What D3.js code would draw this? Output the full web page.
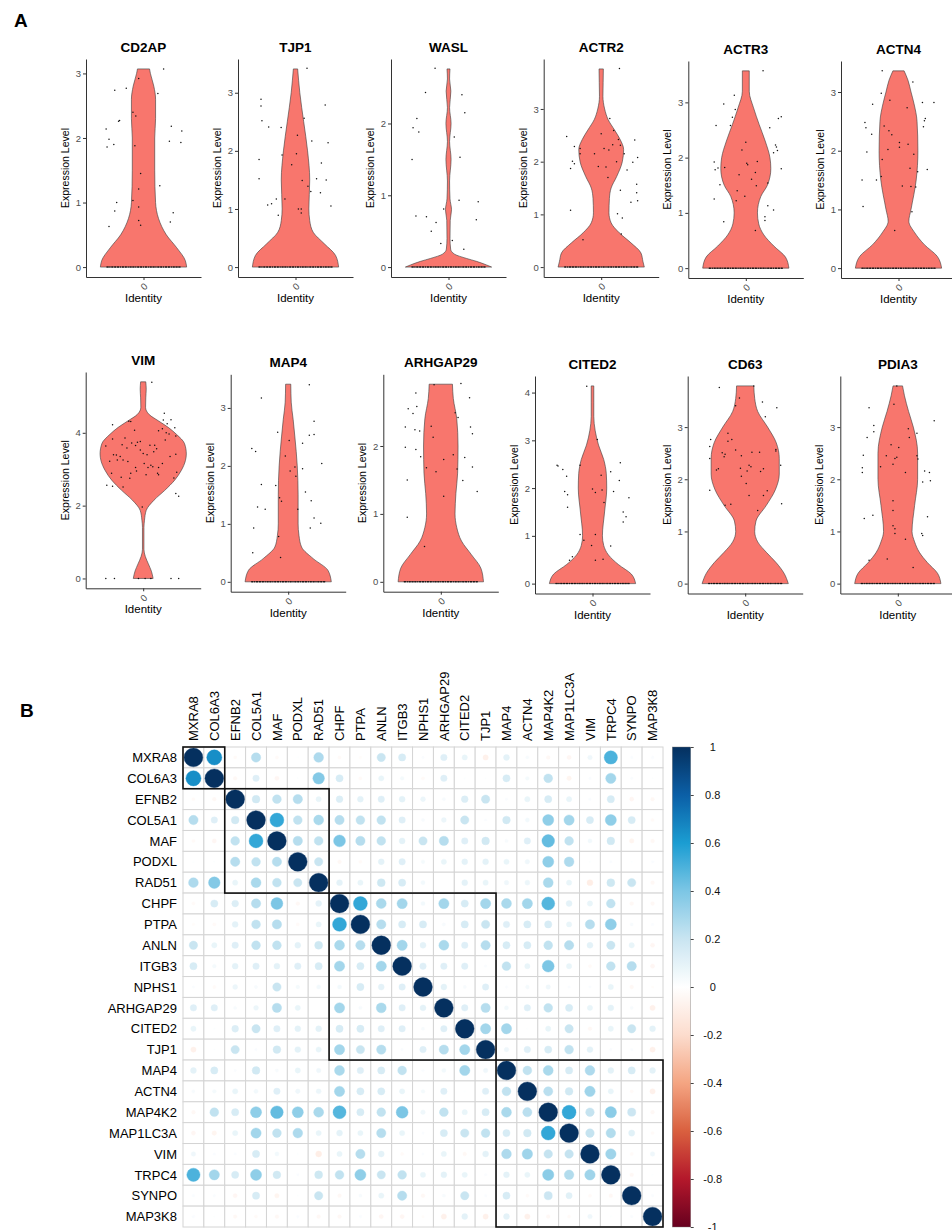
<!DOCTYPE html>
<html><head><meta charset="utf-8">
<script src="https://cdn.jsdelivr.net/npm/d3@7"></script>
<style>body{margin:0;background:#fff} svg{display:block} text{font-family:"Liberation Sans",Arial,sans-serif}</style>
</head><body><svg id="c" width="952" height="1230"></svg>
<script>
// ================= DATA: Panel A (violins) =================
const violinGenes = ["CD2AP","TJP1","WASL","ACTR2","ACTR3","ACTN4","VIM","MAP4","ARHGAP29","CITED2","CD63","PDIA3"];
const violinMax   = [3.07, 3.41, 2.76, 3.76, 3.57, 3.36, 5.4, 3.41, 2.91, 4.14, 3.79, 3.79];
const yTickStep   = [1,1,1,1,1,1,2,1,1,1,1,1];
const xTickLabel  = ["0"];

// violin outlines: [expression level, relative density]
const outlineCD2AP = [[0,1],[0.1,0.97],[0.3,0.77],[0.5,0.53],[0.75,0.35],[1,0.28],[1.5,0.26],[2,0.26],[2.3,0.28],[2.6,0.28],[2.8,0.24],[3.0,0.16],[3.07,0.14]];
const outlineTJP1 = [[0,1],[0.2,0.93],[0.4,0.67],[0.6,0.41],[0.8,0.33],[1,0.31],[1.5,0.33],[2,0.28],[2.5,0.19],[3,0.1],[3.41,0.05]];
const outlineWASL = [[0,1],[0.03,0.88],[0.08,0.65],[0.12,0.42],[0.18,0.14],[0.25,0.05],[0.4,0.035],[0.65,0.04],[0.8,0.07],[0.95,0.035],[1.2,0.025],[1.5,0.06],[1.75,0.025],[2.0,0.06],[2.22,0.025],[2.45,0.055],[2.62,0.025],[2.76,0.035]];
const outlineACTR2 = [[0,1],[0.1,0.97],[0.27,0.92],[0.46,0.69],[0.65,0.42],[0.84,0.23],[1.03,0.18],[1.3,0.19],[1.5,0.23],[1.72,0.36],[2,0.49],[2.23,0.52],[2.42,0.44],[2.6,0.31],[2.8,0.16],[3.0,0.08],[3.24,0.04],[3.5,0.045],[3.76,0.05]];
const outlineACTR3 = [[0,1],[0.2,0.92],[0.4,0.65],[0.6,0.42],[0.8,0.3],[1.0,0.27],[1.3,0.35],[1.5,0.5],[1.8,0.58],[2.0,0.56],[2.3,0.45],[2.6,0.31],[2.9,0.18],[3.2,0.08],[3.57,0.08]];
const outlineACTN4 = [[0,1],[0.2,0.9],[0.4,0.6],[0.6,0.38],[0.8,0.24],[1.0,0.29],[1.5,0.41],[2,0.45],[2.5,0.43],[2.8,0.36],[3.0,0.29],[3.2,0.22],[3.36,0.13]];
const outlineVIM = [[0,0.23],[0.2,0.19],[0.4,0.12],[0.6,0.05],[0.8,0.017],[1.4,0.017],[1.6,0.03],[1.87,0.07],[2.15,0.25],[2.42,0.5],[2.7,0.73],[2.96,0.88],[3.24,0.98],[3.42,1],[3.7,0.96],[3.96,0.77],[4.15,0.58],[4.33,0.35],[4.5,0.14],[4.7,0.055],[4.96,0.06],[5.2,0.07],[5.4,0.06]];
const outlineMAP4 = [[0,1],[0.2,0.92],[0.4,0.58],[0.6,0.31],[0.8,0.25],[1,0.23],[1.5,0.23],[2,0.21],[2.5,0.155],[2.8,0.115],[3.1,0.07],[3.41,0.06]];
const outlineARHGAP29 = [[0,0.99],[0.2,0.93],[0.4,0.71],[0.6,0.48],[0.8,0.37],[1.0,0.33],[1.3,0.35],[1.6,0.39],[2.0,0.4],[2.4,0.37],[2.7,0.29],[2.91,0.27]];
const outlineCITED2 = [[0,1],[0.2,0.9],[0.4,0.6],[0.6,0.37],[0.8,0.26],[1.0,0.23],[1.5,0.28],[2.0,0.33],[2.3,0.32],[2.6,0.26],[2.9,0.14],[3.2,0.063],[3.5,0.03],[3.8,0.03],[4.14,0.03]];
const outlineCD63 = [[0,1],[0.2,0.9],[0.4,0.72],[0.6,0.49],[0.8,0.29],[1.0,0.22],[1.2,0.25],[1.5,0.49],[1.8,0.7],[2.1,0.79],[2.4,0.79],[2.7,0.72],[3.0,0.52],[3.3,0.29],[3.55,0.22],[3.79,0.2]];
const outlinePDIA3 = [[0,1],[0.2,0.92],[0.4,0.69],[0.6,0.5],[0.8,0.39],[1.0,0.33],[1.5,0.39],[2.0,0.46],[2.5,0.46],[3.0,0.36],[3.3,0.25],[3.6,0.155],[3.79,0.11]];

// jittered cells: [jitter (hundredths of group width), expression level]
const cellsCD2AP = [[21,3.07],[-5,2.92],[-30,2.74],[-18,2.77],[15,2.69],[-11,2.4],[-8,2.34],[-25,2.27],[-26,2.26],[-39,2.14],[29,2.18],[40,2.11],[-36,1.98],[-31,1.9],[-38,1.86],[-9,1.88],[27,1.95],[39,1.93],[-3,1.45],[17,1.26],[-5,1.21],[-11,1.03],[-28,1.0],[-30,0.87],[-5,0.93],[31,0.84],[28,0.7],[-5,0.72],[-3,0.65],[-36,0.63]];
const cellsTJP1 = [[12,3.42],[-36,2.89],[-36,2.77],[-35,2.52],[-28,2.41],[-15,2.4],[31,2.79],[9,2.56],[2,2.27],[17,2.17],[34,2.14],[1,1.95],[-14,1.93],[-4,1.76],[27,1.79],[-38,1.85],[-38,1.52],[7,1.49],[22,1.52],[32,1.5],[13,1.39],[16,1.3],[26,1.28],[-20,1.17],[-11,1.17],[-29,1.07],[-25,1.09],[37,1.05],[3,1.0],[6,1.0],[6,0.93],[-18,0.89]];
const cellsWASL = [[-14,2.77],[-24,2.43],[14,2.4],[17,2.15],[-33,2.07],[-37,1.94],[-31,1.88],[6,1.81],[-38,1.5],[12,1.53],[11,0.93],[-5,0.81],[-34,0.71],[-23,0.7],[-13,0.62],[-18,0.5],[-8,0.33],[4,0.37],[16,0.25],[31,0.91],[29,0.66]];
const cellsACTR2 = [[19,3.77],[9,2.82],[-36,2.48],[0,2.53],[13,2.59],[18,2.42],[35,2.41],[-28,2.29],[20,2.31],[12,2.32],[3,2.25],[8,2.22],[-22,2.25],[-22,2.15],[-7,2.15],[24,2.15],[-30,2.01],[-28,1.96],[-32,1.87],[16,2.0],[38,2.08],[33,1.99],[-3,1.91],[5,1.9],[7,1.7],[27,1.84],[20,1.46],[37,1.57],[37,1.41],[31,1.23],[38,1.26],[-32,1.08],[17,1.01],[22,0.93],[21,0.63],[-19,0.52]];
const cellsACTR3 = [[18,3.57],[-12,3.13],[-23,2.97],[-11,2.87],[-14,2.73],[-16,2.58],[-31,2.58],[34,2.71],[37,2.74],[25,2.54],[31,2.23],[32,2.19],[29,2.09],[33,2.13],[0,2.28],[-4,2.14],[1,1.9],[2,1.87],[12,1.93],[-33,1.92],[-32,1.78],[-29,1.81],[-22,1.82],[10,1.73],[-7,1.69],[6,1.61],[11,1.49],[-27,1.51],[37,1.8],[23,1.54],[-9,1.4],[-10,1.22],[-1,1.3],[-33,1.25],[23,1.13],[29,1.05],[20,0.93],[20,0.86],[-23,0.84],[10,0.68]];
const cellsACTN4 = [[-17,3.36],[15,3.17],[-18,2.98],[-9,2.86],[-27,2.79],[25,2.82],[37,2.82],[9,2.73],[-35,2.48],[-34,2.39],[28,2.55],[27,2.51],[26,2.41],[-15,2.42],[-10,2.34],[-7,2.27],[-28,2.28],[-33,1.98],[1,2.14],[1,2.06],[10,2.11],[-11,2.02],[16,1.94],[-17,1.85],[12,1.7],[30,1.68],[20,1.64],[-38,1.5],[-23,1.5],[-18,1.56],[4,1.4],[13,1.39],[18,1.38],[-37,1.05],[14,0.96],[-4,0.64]];
const cellsVIM = [[9,5.39],[22,4.54],[-15,4.32],[-13,4.31],[-32,4.22],[29,4.36],[21,4.35],[25,4.25],[33,4.14],[-9,4.07],[16,4.06],[20,4.11],[24,4.0],[27,3.97],[-32,3.83],[-19,3.86],[-3,3.76],[-6,3.74],[-12,3.72],[-8,3.65],[34,3.91],[23,3.8],[-22,3.67],[7,3.66],[12,3.66],[-17,3.58],[14,3.56],[-3,3.53],[-39,3.64],[-31,3.4],[-28,3.39],[0,3.43],[4,3.4],[11,3.48],[28,3.35],[34,3.41],[-24,3.35],[-21,3.25],[-27,3.25],[-35,3.22],[-16,3.21],[1,3.16],[10,3.07],[8,3.11],[-8,3.05],[5,3.05],[16,3.05],[20,3.16],[-7,2.95],[-33,2.89],[15,2.89],[3,2.85],[16,2.85],[-13,2.89],[-23,2.78],[-14,2.75],[35,2.92],[32,2.76],[-38,2.56],[-32,2.53],[-21,2.51],[34,2.33],[37,2.26],[-1,1.96]];
const cellsMAP4 = [[22,3.4],[-28,3.17],[27,2.77],[-11,2.58],[22,2.53],[27,2.54],[-38,2.3],[-34,2.25],[1,2.44],[15,2.39],[-3,2.17],[35,2.04],[7,1.98],[2,1.91],[8,1.82],[15,1.95],[-28,1.68],[-13,1.66],[18,1.55],[-9,1.45],[-7,1.39],[24,1.4],[-32,1.29],[-24,1.25],[10,1.25],[27,1.1],[34,1.01],[-36,0.93],[23,0.93],[-10,0.78],[-37,0.5],[-8,0.42]];
const cellsARHGAP29 = [[-7,2.9],[21,2.92],[-26,2.78],[30,2.71],[-34,2.55],[-25,2.58],[-29,2.48],[15,2.49],[18,2.42],[-37,2.28],[-10,2.29],[-27,2.24],[-22,2.22],[31,2.28],[33,2.18],[-8,2.13],[-37,1.98],[-26,1.95],[-21,1.84],[13,1.87],[25,1.83],[3,1.8],[33,1.69],[-15,1.68],[-5,1.62],[17,1.66],[-35,1.5],[23,1.49],[3,1.26],[38,1.33],[-35,0.95],[-17,0.52]];
const cellsCITED2 = [[-6,4.13],[5,3.02],[-37,2.48],[-36,2.46],[-31,2.39],[-13,2.48],[29,2.53],[19,2.34],[-27,2.25],[9,2.27],[28,2.16],[-29,1.93],[-26,1.86],[0,1.98],[3,1.91],[10,1.96],[22,1.93],[38,1.8],[12,1.7],[-26,1.6],[32,1.5],[35,1.4],[32,1.29],[3,1.03],[-13,1.03],[-9,0.91],[-1,0.8],[19,0.79],[-21,0.56],[-24,0.49],[3,0.49],[11,0.51]];
const cellsCD63 = [[9,3.79],[-27,3.76],[-6,3.56],[18,3.48],[-10,3.41],[33,3.37],[21,3.2],[-36,2.76],[-18,2.88],[-14,2.76],[-18,2.73],[-37,2.63],[-10,2.56],[32,2.57],[32,2.54],[-24,2.51],[-21,2.48],[-22,2.43],[-4,2.45],[7,2.52],[15,2.52],[-37,2.4],[4,2.27],[6,2.24],[37,2.27],[-28,2.2],[-30,2.18],[-5,2.21],[2,2.16],[19,2.2],[16,2.15],[-4,2.06],[1,1.92],[-37,1.79],[23,1.78],[4,1.69],[19,1.69],[38,1.53],[-15,1.52],[-21,1.5],[13,1.4]];
const cellsPDIA3 = [[-1,3.79],[-4,3.44],[-30,3.37],[-25,3.03],[-25,2.91],[-32,2.8],[38,3.12],[11,2.97],[20,2.88],[12,2.8],[-7,2.66],[1,2.61],[-36,2.46],[-12,2.45],[-1,2.42],[-3,2.4],[20,2.45],[21,2.39],[-5,2.29],[-18,2.24],[-37,2.22],[-37,2.13],[8,2.13],[28,2.16],[33,2.13],[26,1.95],[34,1.97],[-5,1.59],[-5,1.4],[-26,1.31],[-35,1.25],[31,1.28],[-5,1.11],[-3,1.05],[-3,0.96],[25,0.96],[26,0.92],[8,0.85],[-30,0.45],[-11,0.47],[16,0.31]];

// jitter of the many zero-expression cells
const zeroJitter = [-38,-37,-35,-33,-32,-30,-29,-27,-26,-24,-22,-21,-19,-18,-16,-14,-13,-11,-10,-8,-6,-5,-3,-2,0,2,3,5,7,8,10,11,13,15,16,18,19,21,23,24,26,27,29,31,32,34,35,37,38];
const zeroJitterVIM = [-39,-30,-5,2,8,29,37];

// ================= DATA: Panel B (correlation matrix) =================
const corrGenes = ["MXRA8","COL6A3","EFNB2","COL5A1","MAF","PODXL","RAD51","CHPF","PTPA","ANLN","ITGB3","NPHS1","ARHGAP29","CITED2","TJP1","MAP4","ACTN4","MAP4K2","MAP1LC3A","VIM","TRPC4","SYNPO","MAP3K8"];
// upper triangle, row i holds r(i, j) for j > i
const corrUpper = [
 [0.65,-0.03,0.25,-0.03,0.01,0.27,-0.03,-0.02,0.2,0.15,0.02,0.12,0.08,-0.08,0.1,0.03,-0.04,-0.05,0.06,0.5,0.02,0.02],
 [-0.04,0.12,-0.05,0.01,0.38,0.15,-0.03,0.08,0.04,-0.03,0.12,0.01,0.01,0.15,0.04,0.22,-0.06,0.02,0.3,0.02,0.01],
 [0.17,0.22,0.25,0.08,0.13,0.1,0.12,0.1,0.07,0.03,0.13,0.2,0.02,0.08,0.15,0.08,0.02,0.15,-0.05,-0.04],
 [0.55,0.22,0.28,0.25,0.22,0.22,0.12,0.03,0.07,0.2,0.02,0.17,0.05,0.35,0.3,0.15,0.35,0.15,-0.03],
 [0.25,0.22,0.4,0.25,0.22,0.1,0.2,0.25,0.12,0.17,0.03,0.12,0.45,0.22,0.05,0.17,-0.06,-0.04],
 [0.2,-0.04,-0.03,0.1,0.12,0.04,0.08,0.1,0.1,0.08,0.06,0.35,0.27,0.01,0.02,0.01,0.02],
 [0.1,0.08,0.18,0.15,0.05,0.0,0.1,0.08,0.06,0.07,0.28,0.08,-0.1,0.18,0.2,-0.04],
 [0.55,0.28,0.3,0.05,0.3,0.15,0.3,0.28,0.3,0.48,0.1,0.08,0.22,-0.04,-0.04],
 [0.25,0.15,0.15,0.03,0.15,0.2,0.12,0.15,0.15,0.08,0.25,0.35,0.03,0.02],
 [0.3,0.1,0.28,0.12,0.25,0.15,0.15,0.22,0.25,0.1,0.2,0.08,-0.05],
 [0.12,0.12,0.12,0.02,0.22,0.08,0.4,0.08,-0.03,0.22,0.25,-0.05],
 [0.1,0.03,0.12,0.02,0.04,0.06,0.02,0.02,0.08,-0.04,-0.02],
 [0.12,0.25,0.05,0.12,0.22,0.15,0.08,0.1,0.03,-0.08],
 [0.3,0.3,0.01,0.08,0.2,-0.04,0.08,0.2,0.1],
 [0.06,0.12,0.15,0.22,0.1,0.02,0.02,-0.08],
 [0.22,0.28,0.15,0.27,0.1,0.15,0.1],
 [0.24,0.17,0.31,0.08,-0.03,-0.08],
 [0.55,0.21,0.36,0.19,-0.04],
 [0.21,0.26,0.11,-0.03],
 [0.31,-0.03,0.06],
 [-0.04,0.01],
 [0.02]
];
const clusterStart = [0,2,7,15];
const clusterEnd   = [1,6,14,22];
const legendTicks = [1,0.8,0.6,0.4,0.2,0,-0.2,-0.4,-0.6,-0.8,-1];
const legendTickLabels = ["1","0.8","0.6","0.4","0.2","0","-0.2","-0.4","-0.6","-0.8","-1"];
const legendColors = ["#05305f","#0b5fa6","#1b9dd2","#7cc6e5","#c9e5f1","#ffffff","#fcdccd","#f4a582","#d9603f","#b4182b","#67001f"];

// ================= LAYOUT =================
const svg = d3.select("#c");
svg.append("rect").attr("width",952).attr("height",1230).attr("fill","#fff");
const FONT = '"Liberation Sans", Arial, sans-serif';

const panelAxisX  = [86,238,391,543.7,688.3,841, 85.7,230.7,383.3,535,687.7,840.3];
const panelTop    = [59,59,59,59,61,61, 372,374.3,374.3,376,376,376];
const panelBottom = [277,277,277,277,278,278, 588.3,591.7,591.7,593.5,593.5,593.5];
const panelWidth = 115;

const outlines = [outlineCD2AP,outlineTJP1,outlineWASL,outlineACTR2,outlineACTR3,outlineACTN4,outlineVIM,outlineMAP4,outlineARHGAP29,outlineCITED2,outlineCD63,outlinePDIA3];
const cells = [cellsCD2AP,cellsTJP1,cellsWASL,cellsACTR2,cellsACTR3,cellsACTN4,cellsVIM,cellsMAP4,cellsARHGAP29,cellsCITED2,cellsCD63,cellsPDIA3];

svg.append("text").attr("x",14).attr("y",27).attr("font-size",19).attr("font-weight","bold").attr("font-family",FONT).text("A");
svg.append("text").attr("x",20).attr("y",717).attr("font-size",19).attr("font-weight","bold").attr("font-family",FONT).text("B");

violinGenes.forEach((g,i)=>{
  const ax = panelAxisX[i], top = panelTop[i], bot = panelBottom[i], M = violinMax[i];
  const gp = svg.append("g");
  const ys = d3.scaleLinear().domain([-0.05*M, 1.05*M]).range([bot, top]);
  const xs = d3.scaleLinear().domain([0.4,1.6]).range([ax, ax+panelWidth]);
  const xp = d3.scalePoint().domain(xTickLabel).range([ax, ax+panelWidth]).padding(0.5);
  const cx = xs(1);
  // violin
  const area = d3.area().curve(d3.curveMonotoneY)
    .y(d=>ys(d[0])).x0(d=>xs(1-0.45*d[1])).x1(d=>xs(1+0.45*d[1]));
  gp.append("path").attr("d", area(outlines[i])).attr("fill","#F8766D").attr("stroke","#3a3a3a").attr("stroke-width",0.6);
  // zero cells
  const zj = (g==="VIM") ? zeroJitterVIM : zeroJitter;
  gp.selectAll("circle.z").data(zj).join("circle").attr("class","z")
    .attr("cx",d=>xs(1+d/100)).attr("cy",ys(0)).attr("r",0.75).attr("fill","#111");
  gp.selectAll("circle.p").data(cells[i]).join("circle").attr("class","p")
    .attr("cx",d=>xs(1+d[0]/100)).attr("cy",d=>ys(d[1])).attr("r",0.75).attr("fill","#111");
  // y axis
  const yAxis = d3.axisLeft(ys).tickValues(d3.range(0, M+1e-9, yTickStep[i])).tickSize(3).tickSizeOuter(0).tickPadding(2).tickFormat(d3.format("d"));
  const ya = gp.append("g").attr("transform",`translate(${ax},0)`).call(yAxis);
  ya.select(".domain").attr("stroke","#333").attr("stroke-width",1);
  ya.selectAll(".tick line").attr("stroke","#333");
  ya.selectAll(".tick text").attr("font-size",9.5).attr("fill","#4d4d4d").attr("font-family",FONT);
  // x axis
  const xAxis = d3.axisBottom(xp).tickSize(3).tickSizeOuter(0);
  const xa = gp.append("g").attr("transform",`translate(0,${bot})`).call(xAxis);
  xa.select(".domain").attr("stroke","#333").attr("stroke-width",1);
  xa.selectAll(".tick line").attr("stroke","#333");
  xa.selectAll(".tick text").attr("font-size",9.5).attr("fill","#4d4d4d").attr("font-family",FONT)
    .attr("y",0).attr("dy",0).attr("text-anchor","middle").attr("dominant-baseline","central")
    .attr("transform","translate(0,9.5) rotate(-45)");
  // labels
  gp.append("text").attr("x",cx).attr("y",top-7.5).attr("text-anchor","middle").attr("font-size",13.5).attr("font-weight","bold").attr("font-family",FONT).text(g);
  gp.append("text").attr("transform",`translate(${ax-17},${(top+bot)/2}) rotate(-90)`).attr("text-anchor","middle").attr("font-size",10.5).attr("font-family",FONT).text("Expression Level");
  gp.append("text").attr("x",cx).attr("y",bot+25).attr("text-anchor","middle").attr("font-size",11.5).attr("font-family",FONT).text("Identity");
});

// ================= Correlation matrix =================
const n = corrGenes.length;
const M = corrGenes.map((g,i)=>corrGenes.map((h,j)=> i===j ? 1 : (j>i ? corrUpper[i][j-i-1] : corrUpper[j][i-j-1])));
const cellData = [];
M.forEach((row,i)=>row.forEach((v,j)=>cellData.push({i,j,v})));
const gx = d3.scaleBand().domain(corrGenes).range([183, 663]);
const gy = d3.scaleBand().domain(corrGenes).range([747, 1227]);
const bw = gx.bandwidth();
const col = d3.scaleLinear().domain(legendTicks).range(legendColors).interpolate(d3.interpolateRgb);
const rad = d3.scaleSqrt().domain([0,1]).range([0, 0.45*bw]);

const gm = svg.append("g");
gm.selectAll("rect.cell").data(cellData).join("rect").attr("class","cell")
  .attr("x",d=>gx(corrGenes[d.j])).attr("y",d=>gy(corrGenes[d.i]))
  .attr("width",bw).attr("height",bw).attr("fill","#fff").attr("stroke","#d4d4d4").attr("stroke-width",1);
gm.selectAll("circle.cc").data(cellData).join("circle").attr("class","cc")
  .attr("cx",d=>gx(corrGenes[d.j])+bw/2).attr("cy",d=>gy(corrGenes[d.i])+bw/2)
  .attr("r",d=>rad(Math.abs(d.v))).attr("fill",d=>col(d.v)).attr("stroke",d=>col(d.v)).attr("stroke-width",0.4);
// cluster rectangles
clusterStart.forEach((s,k)=>{
  const e = clusterEnd[k];
  gm.append("rect").attr("x",gx(corrGenes[s])).attr("y",gy(corrGenes[s]))
    .attr("width",gx(corrGenes[e])+bw-gx(corrGenes[s])).attr("height",gy(corrGenes[e])+bw-gy(corrGenes[s]))
    .attr("fill","none").attr("stroke","#111").attr("stroke-width",1.6);
});
// labels
gm.selectAll("text.rl").data(corrGenes).join("text").attr("class","rl")
  .attr("x",177).attr("y",d=>gy(d)+bw/2).attr("dy","0.36em").attr("text-anchor","end")
  .attr("font-size",13).attr("font-family",FONT).text(d=>d);
gm.selectAll("text.cl").data(corrGenes).join("text").attr("class","cl")
  .attr("transform",d=>`translate(${gx(d)+bw/2},741) rotate(-90)`).attr("dy","0.36em").attr("text-anchor","start")
  .attr("font-size",13).attr("font-family",FONT).text(d=>d);

// colour legend
const ly = d3.scaleLinear().domain([-1,1]).range([1227,747]);
const defs = svg.append("defs");
const grad = defs.append("linearGradient").attr("id","cg").attr("x1",0).attr("y1",1).attr("x2",0).attr("y2",0);
d3.range(0,1.0001,0.02).forEach(t=>{
  grad.append("stop").attr("offset",t).attr("stop-color",col(-1+2*t));
});
svg.append("rect").attr("x",672.3).attr("y",ly(1)).attr("width",18.4).attr("height",ly(-1)-ly(1))
  .attr("fill","url(#cg)").attr("stroke","#777").attr("stroke-width",0.4);
const lAxis = d3.axisRight(ly).tickValues(legendTicks).tickSize(3).tickFormat((d,k)=>legendTickLabels[k]);
const la = svg.append("g").attr("transform","translate(690.7,0)").call(lAxis);
la.select(".domain").remove();
la.selectAll(".tick line").attr("stroke","#444");
la.selectAll(".tick text").attr("x",22).attr("text-anchor","middle").attr("font-size",11).attr("fill","#111").attr("font-family",FONT);
</script></body></html>
